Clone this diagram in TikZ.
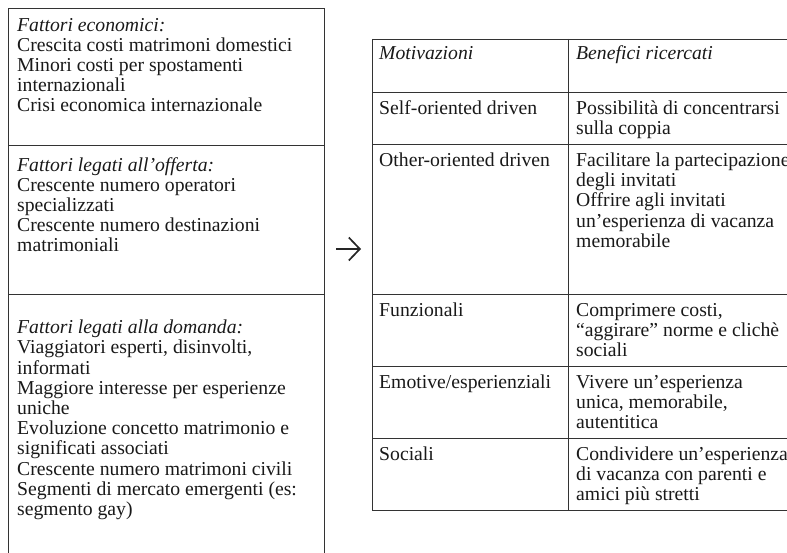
\documentclass[tikz,border=0pt]{standalone}
\usepackage{fontspec}
\setmainfont{Liberation Serif}
\usetikzlibrary{arrows.meta}
\begin{document}
\begin{tikzpicture}[x=1pt,y=-1pt,
  rule/.style={line width=0.9pt, draw=black!80},
  txt/.style={anchor=base west, inner sep=0pt, align=left, text=black!90,
    font=\fontsize{19.7}{20.2}\selectfont},
  arr/.style={line width=1.7pt, draw=black!85, -{Straight Barb[length=11pt,width=23pt]}}
]
\useasboundingbox (0,0) rectangle (787,553);
\clip (0,0) rectangle (787,553);
% left box
\draw[rule] (8,560) -- (8,8) -- (324,8) -- (324,560);
\draw[rule] (8,145) -- (324,145);
\draw[rule] (8,294) -- (324,294);
% multi-line nodes: base anchor = baseline of last line
\node[txt] (eco) at (17,112.0) {\textit{Fattori economici:}\\Crescita costi matrimoni domestici\\Minori costi per spostamenti\\internazionali\\Crisi economica internazionale};
\node[txt] (off) at (17,252.0) {\textit{Fattori legati all’offerta:}\\Crescente numero operatori\\specializzati\\Crescente numero destinazioni\\matrimoniali};
\node[txt] (dom) at (17,515.5) {\textit{Fattori legati alla domanda:}\\Viaggiatori esperti, disinvolti,\\informati\\Maggiore interesse per esperienze\\uniche\\Evoluzione concetto matrimonio e\\significati associati\\Crescente numero matrimoni civili\\Segmenti di mercato emergenti (es:\\segmento gay)};
% arrow
\coordinate (arrS) at (336,249);
\coordinate (arrE) at (361,249);
\draw[arr] (arrS) -- (arrE);
% table
\foreach \yy in {39,92,144,294,366,438,510}
  \draw[rule] (372,\yy) -- (800,\yy);
\draw[rule] (372,39) -- (372,510);
\draw[rule] (568,39) -- (568,510);
\node[txt] (h1) at (379,59.5) {\textit{Motivazioni}};
\node[txt] (h2) at (576,59.5) {\textit{Benefici ricercati}};
\node[txt] (m1) at (379,114.5) {Self-oriented driven};
\node[txt] (b1) at (576,134.7) {Possibilità di concentrarsi\\sulla coppia};
\node[txt] (m2) at (379,166.5) {Other-oriented driven};
\node[txt] (b2) at (576,247.3) {Facilitare la partecipazione\\degli invitati\\Offrire agli invitati\\un’esperienza di vacanza\\memorabile};
\node[txt] (m3) at (379,316.5) {Funzionali};
\node[txt] (b3) at (576,356.9) {Comprimere costi,\\“aggirare” norme e clichè\\sociali};
\node[txt] (m4) at (379,388.5) {Emotive/esperienziali};
\node[txt] (b4) at (576,428.9) {Vivere un’esperienza\\unica, memorabile,\\autentitica};
\node[txt] (m5) at (379,460.5) {Sociali};
\node[txt] (b5) at (576,500.9) {Condividere un’esperienza\\di vacanza con parenti e\\amici più stretti};
\end{tikzpicture}
\end{document}
